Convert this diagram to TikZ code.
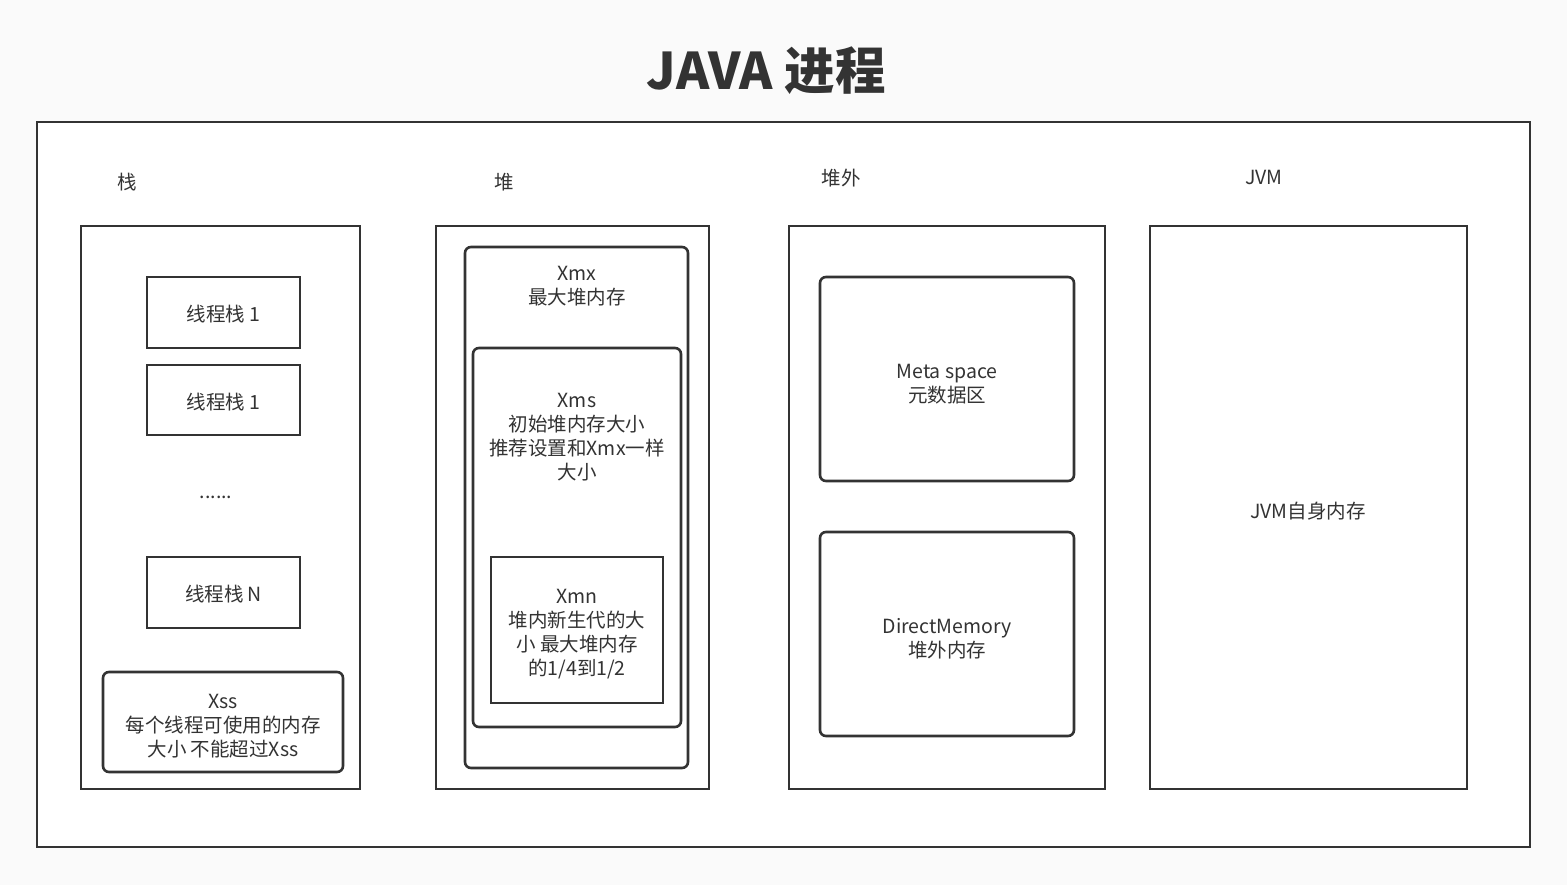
\documentclass[tikz,border=0pt]{standalone}
\usepackage{fontspec}
\setmainfont{Noto Sans CJK SC}
\usetikzlibrary{positioning}
\definecolor{ink}{HTML}{333333}
\definecolor{bg}{HTML}{FAFAFA}
\tikzset{
  frame/.style={draw=ink, line width=2.6pt, fill=white, inner sep=0pt, outer sep=0pt, anchor=north west},
  rframe/.style={frame, rounded corners=6pt},
  txt/.style={text=ink, align=center, inner sep=0pt, yshift=-2pt, font=\fontsize{19.5}{24}\selectfont},
}
\newcommand{\boxat}[6][frame]{%
  \node[#1, minimum width=#4pt, minimum height=#5pt] (#6) at (#2,#3) {};}
\begin{document}
\begin{tikzpicture}[x=1pt,y=-1pt]
\useasboundingbox (0,0) rectangle (1567,885);
\fill[bg] (0,0) rectangle (1567,885);
\node[text=ink, font=\fontsize{50.5}{58}\selectfont\bfseries] (title) at (766,71) {JAVA 进程};
\boxat{37}{122}{1493}{725}{outer}
% labels
\node[txt] (lstack) at (127,180) {栈};
\node[txt] (lheap) at (504,180) {堆};
\node[txt] (loff) at (841,176) {堆外};
\node[txt] (ljvm) at (1264,175) {JVM};
% stack column
\boxat{81}{226}{279}{563}{stack}
\boxat{147}{277}{153}{71}{t1}
\node[txt] (t1t) at (t1.center) {线程栈 1};
\boxat{147}{365}{153}{70}{t2}
\node[txt] (t2t) at (t2.center) {线程栈 1};
\node[txt] (dots) at (216,495) {......};
\boxat{147}{557}{153}{71}{tn}
\node[txt] (tnt) at (tn.center) {线程栈 N};
\boxat[rframe]{103}{672}{240}{100}{xss}
\node[txt] (xsst) at (223,724) {Xss\\每个线程可使用的内存\\大小 不能超过Xss};
% heap column
\boxat{436}{226}{273}{563}{heap}
\boxat[rframe]{465}{247}{223}{521}{xmx}
\node[txt] (xmxt) at (577,284) {Xmx\\最大堆内存};
\boxat[rframe]{473}{348}{208}{379}{xms}
\node[txt] (xmst) at (577,435) {Xms\\初始堆内存大小\\推荐设置和Xmx一样\\大小};
\boxat{491}{557}{172}{146}{xmn}
\node[txt] (xmnt) at (577,632) {Xmn\\堆内新生代的大\\小 最大堆内存\\的1/4到1/2};
% off-heap column
\boxat{789}{226}{316}{563}{off}
\boxat[rframe]{820}{277}{254}{204}{meta}
\node[txt] (metat) at (947,382) {Meta space\\元数据区};
\boxat[rframe]{820}{532}{254}{204}{direct}
\node[txt] (directt) at (947,637) {DirectMemory\\堆外内存};
% JVM column
\boxat{1150}{226}{317}{563}{jvm}
\node[txt] (jvmt) at (1308,509) {JVM自身内存};
\end{tikzpicture}
\end{document}
